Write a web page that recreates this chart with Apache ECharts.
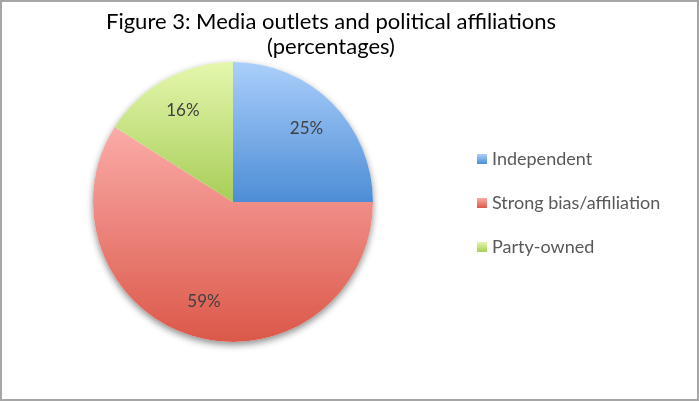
<!DOCTYPE html>
<html>
<head>
<meta charset="utf-8">
<script src="https://cdn.jsdelivr.net/npm/echarts@6/dist/echarts.min.js"></script>
<style>
  html, body { margin: 0; padding: 0; background: #fff; }
  #chart { width: 699px; height: 401px; }
</style>
</head>
<body>
<div id="chart"></div>
<script>
// Media outlets by political affiliation, in percent
const categories = ['Independent', 'Strong bias/affiliation', 'Party-owned'];
const shares = [25, 59, 16];

// Vertical gradients per slice: [top, bottom]
const sliceGradients = [
  ['#abcffb', '#4d8dd6'],
  ['#fbaba8', '#db5849'],
  ['#e4f7ad', '#a8cd58']
];

const FONT = 'Lato, "Open Sans", sans-serif';
const CENTER = [233, 202];
const RADIUS = 140;

function vGrad(stops) {
  return new echarts.graphic.LinearGradient(0, 0, 0, 1, [
    { offset: 0, color: stops[0] },
    { offset: 1, color: stops[1] }
  ]);
}

const pieData = categories.map((name, i) => ({
  name: name,
  value: shares[i],
  itemStyle: { color: vGrad(sliceGradients[i]) }
}));

const chart = echarts.init(document.getElementById('chart'), null, { renderer: 'canvas' });

chart.setOption({
  animation: false,
  backgroundColor: '#ffffff',
  title: {
    text: 'Figure 3: Media outlets and political affiliations\n(percentages)',
    left: 326,
    top: 4,
    textAlign: 'center',
    textStyle: {
      fontFamily: FONT,
      fontSize: 22,
      fontWeight: 'normal',
      color: '#000000',
      lineHeight: 25
    }
  },
  legend: {
    orient: 'vertical',
    left: 477,
    top: 150,
    padding: 0,
    itemWidth: 10,
    itemHeight: 10,
    itemGap: 26,
    icon: 'rect',
    data: categories,
    textStyle: {
      fontFamily: FONT,
      fontSize: 18,
      color: '#595959'
    },
    selectedMode: false
  },
  graphic: [{
    type: 'rect',
    shape: { x: 1, y: 1, width: 697, height: 399 },
    style: { fill: 'none', stroke: '#a6a6a6', lineWidth: 2 },
    silent: true,
    z: 100
  }],
  series: [
    {
      // soft drop shadow beneath the whole pie
      type: 'pie',
      center: CENTER,
      radius: [0, RADIUS],
      silent: true,
      z: 1,
      label: { show: false },
      labelLine: { show: false },
      itemStyle: {
        color: '#ffffff',
        shadowBlur: 7,
        shadowOffsetY: 3,
        shadowColor: 'rgba(0,0,0,0.45)'
      },
      data: [{ value: 1, name: '' }]
    },
    {
      type: 'pie',
      center: CENTER,
      radius: [0, RADIUS],
      startAngle: 90,
      clockwise: true,
      z: 2,
      silent: true,
      label: { show: false },
      labelLine: { show: false },
      itemStyle: { borderWidth: 0 },
      data: pieData
    },
    {
      // transparent ring that carries the percentage labels
      type: 'pie',
      center: CENTER,
      radius: [62, RADIUS],
      startAngle: 90,
      clockwise: true,
      z: 3,
      silent: true,
      itemStyle: { color: 'rgba(0,0,0,0)', borderWidth: 0 },
      label: {
        show: true,
        position: 'inside',
        formatter: '{c}%',
        fontFamily: FONT,
        fontSize: 17,
        color: '#404040'
      },
      labelLine: { show: false },
      data: categories.map((name, i) => ({ name: name, value: shares[i] }))
    }
  ]
});
</script>
</body>
</html>
